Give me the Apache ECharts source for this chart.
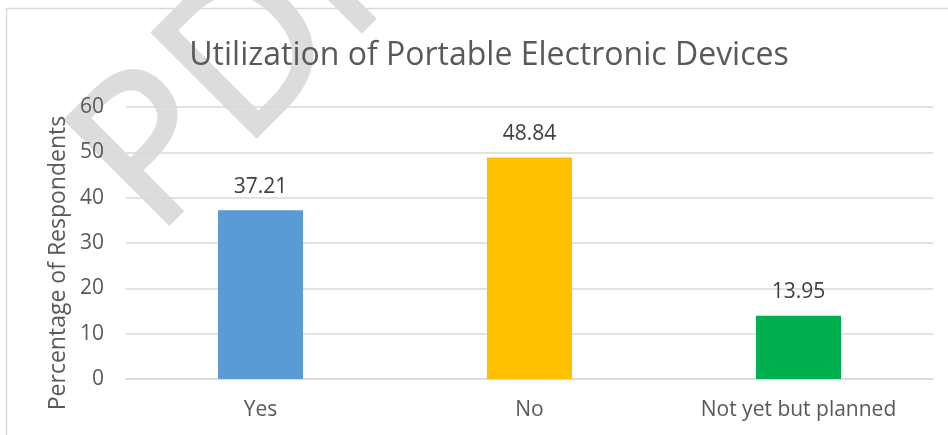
<!DOCTYPE html>
<html>
<head>
<meta charset="utf-8">
<script src="https://cdn.jsdelivr.net/npm/echarts@6/dist/echarts.min.js"></script>
<style>
  html, body { margin: 0; padding: 0; background: #fff; }
  #chart { width: 948px; height: 435px; }
</style>
</head>
<body>
<div id="chart"></div>
<script>
const categories = ['Yes', 'No', 'Not yet but planned'];
const values = [37.21, 48.84, 13.95];
const barColors = ['#5B9BD5', '#FFC000', '#00B050'];
const yTicks = [0, 10, 20, 30, 40, 50, 60];

const font = 'Open Sans';

const myChart = echarts.init(document.getElementById('chart'));
const option = {
  backgroundColor: '#fff',
  animation: false,
  title: {
    text: 'Utilization of Portable Electronic Devices',
    left: 484,
    top: 35,
    textAlign: 'center',
    textStyle: { color: '#595959', fontSize: 32, fontWeight: 'normal', fontFamily: font }
  },
  graphic: [
    {
      type: 'rect',
      z: -10,
      silent: true,
      shape: { x: 6.5, y: 8.5, width: 1000, height: 500 },
      style: { fill: 'none', stroke: '#d9d9d9', lineWidth: 1.5 }
    },
    {
      // 水印
      type: 'text',
      z: -5,
      silent: true,
      x: 114,
      y: 196,
      rotation: Math.PI / 4,
      style: {
        text: 'PDF',
        fontSize: 205,
        fontFamily: font,
        fontWeight: 'normal',
        fill: '#dcdcdc',
        stroke: '#dcdcdc',
        lineWidth: 4,
        align: 'left',
        verticalAlign: 'middle'
      }
    },
    {
      type: 'text',
      silent: true,
      x: 58,
      y: 263,
      rotation: Math.PI / 2,
      style: {
        text: 'Percentage of Respondents',
        fontSize: 23,
        fontFamily: font,
        fill: '#595959',
        align: 'center',
        verticalAlign: 'middle'
      }
    }
  ],
  grid: { left: 126, right: 15, top: 107, bottom: 56 },
  xAxis: {
    type: 'category',
    data: categories,
    axisLine: { show: true, lineStyle: { color: '#d9d9d9', width: 1.5 } },
    axisTick: { show: false },
    axisLabel: { color: '#595959', fontSize: 21, fontFamily: font, margin: 21 }
  },
  yAxis: {
    type: 'value',
    min: yTicks[0],
    max: yTicks[yTicks.length - 1],
    interval: 10,
    axisLine: { show: false },
    axisTick: { show: false },
    axisLabel: { color: '#595959', fontSize: 21, fontFamily: font, margin: 22 },
    splitLine: { lineStyle: { color: '#d9d9d9', width: 1.5 } }
  },
  series: [
    {
      type: 'bar',
      barWidth: '31.6%',
      data: values.map((v, i) => ({ value: v, itemStyle: { color: barColors[i] } })),
      label: {
        show: true,
        position: 'top',
        distance: 13,
        color: '#404040',
        fontSize: 21,
        fontFamily: font,
        formatter: (p) => p.value.toFixed(2)
      }
    }
  ]
};
myChart.setOption(option);
</script>
</body>
</html>
